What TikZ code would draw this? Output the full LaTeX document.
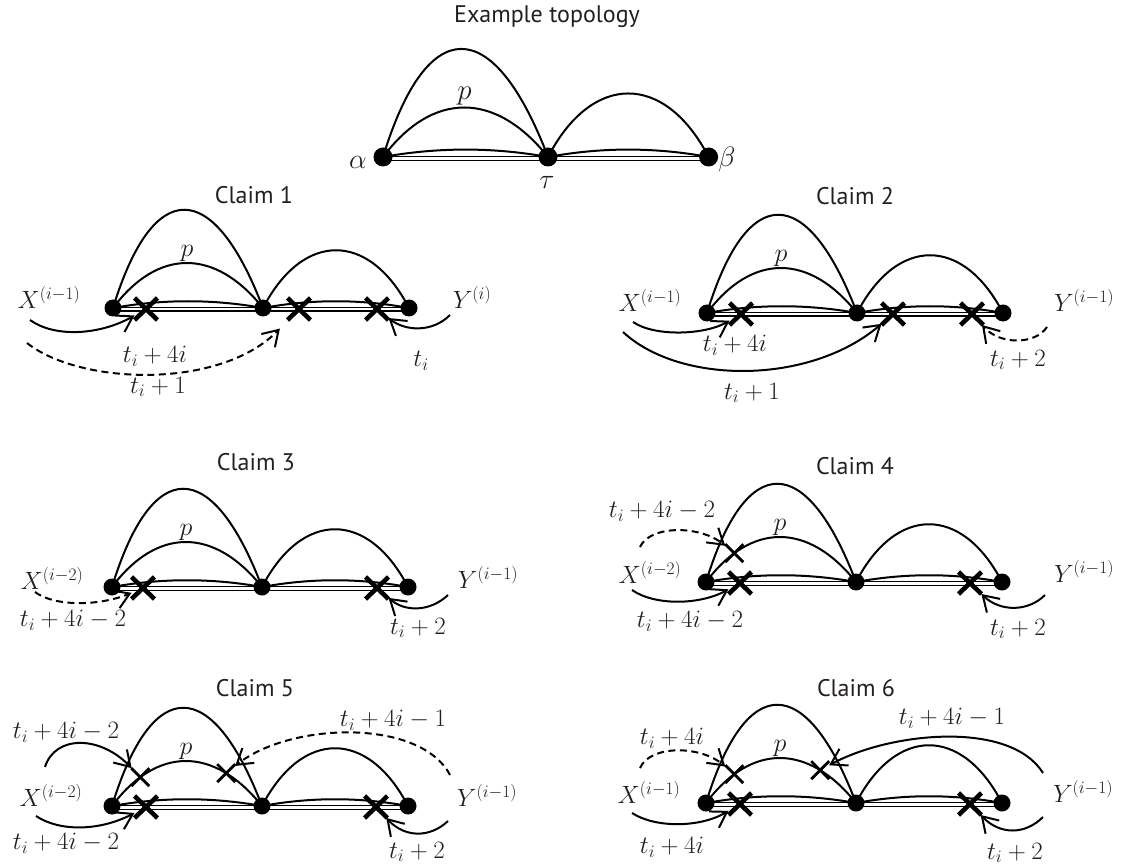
\RequirePackage{fix-cm}
\documentclass[tikz,border=0pt]{standalone}
\usepackage{fontspec}
\setsansfont{PT Sans}
\usetikzlibrary{arrows.meta,shapes.misc}
\pgfdeclarelayer{bg}
\pgfsetlayers{bg,main}
\definecolor{ink}{RGB}{35,31,32}
\tikzset{
  dot/.style={circle, fill=black, inner sep=0pt, minimum size=17pt},
  edge/.style={line width=2pt, black},
  dbl/.style={line width=1.6pt, black, double=white, double distance=2.2pt},
  bigx/.style={cross out, draw=black, line width=4.6pt, minimum width=17pt, minimum height=16pt, inner sep=0pt, outer sep=3pt},
  smallx/.style={cross out, draw=black, line width=2.8pt, minimum size=12pt, inner sep=0pt, outer sep=3pt},
  arr/.style={line width=2pt, -{Straight Barb[length=15pt,width=19pt,line width=2pt]}},
  darr/.style={arr, dash pattern=on 7pt off 4.5pt},
  lab/.style={font=\fontsize{25}{30}\selectfont, text=ink, inner sep=0pt},
  plab/.style={font=\fontsize{26}{30}\selectfont, text=ink, inner sep=0pt},
  ttl/.style={font=\sffamily\fontsize{24}{28}\selectfont, text=ink, inner sep=0pt},
}
\newcommand{\topo}[2]{%
\begin{scope}[#2]
 \node[dot] (#1L) at (0,0) {};
 \node[dot] (#1M) at (150,0) {};
 \node[dot] (#1R) at (296,0) {};
 \node[plab] (#1p) at (74,-55) {$p$};
 \begin{pgfonlayer}{bg}
  \draw[edge] (#1L.center) .. controls (40,-131) and (100,-131) .. (#1M.center);
  \draw[edge] (#1L.center) .. controls (45,-60) and (102,-60) .. (#1M.center)
     coordinate[pos=0.2] (#1pa) coordinate[pos=0.76] (#1pb);
  \draw[edge] (#1L.center) .. controls (50,-9) and (100,-9) .. (#1M.center);
  \draw[dbl] ([yshift=-1.4pt]#1L.center) -- ([yshift=-1.4pt]#1M.center);
  \draw[edge] (#1M.center) .. controls (190,-77) and (256,-77) .. (#1R.center);
  \draw[edge] (#1M.center) .. controls (199,-9) and (247,-9) .. (#1R.center);
  \draw[dbl] ([yshift=-1.4pt]#1M.center) -- ([yshift=-1.4pt]#1R.center);
 \end{pgfonlayer}
\end{scope}}

\begin{document}
\begin{tikzpicture}[x=1pt,y=-1pt]
\useasboundingbox (0,0) rectangle (1126,866);

% ---------- Example topology ----------
\node[ttl] (extitle) at (547,17) {Example topology};
\topo{ex}{shift={(383,157)},scale=1.1,dot/.append style={minimum size=19pt},plab/.append style={font=\fontsize{29}{34}\selectfont}}
\node[lab, font=\fontsize{28}{32}\selectfont] (alpha) at (358,162) {$\alpha$};
\node[lab, font=\fontsize{28}{32}\selectfont] (beta) at (727,160) {$\beta$};
\node[lab, font=\fontsize{28}{32}\selectfont] (tau) at (547,182) {$\tau$};

% ---------- Claim 1 ----------
\node[ttl] (c1title) at (254,195) {Claim 1};
\topo{c1}{shift={(113,308)}}
\node[lab] (c1X) at (49,297) {$X^{(i-1)}$};
\node[lab] (c1Y) at (472,297) {$Y^{(i)}$};
\node[bigx] (c1m1) at (146,309) {};
\node[bigx] (c1m2) at (299,309) {};
\node[bigx] (c1m3) at (377,309) {};
\coordinate (c1s1) at (30,320);
\coordinate (c1s2) at (27,343);
\coordinate (c1s3) at (450,315);
\draw[arr] (c1s1) .. controls (55,338) and (100,335) .. (c1m1);
\draw[darr, shorten >=12pt] (c1s2) .. controls (80,385) and (220,390) .. (c1m2);
\draw[arr] (c1s3) .. controls (432,333) and (405,331) .. (c1m3);
\node[lab] (c1l1) at (155,356) {$t_i+4i$};
\node[lab] (c1l2) at (158,387) {$t_i+1$};
\node[lab] (c1l3) at (421,361) {$t_i$};

% ---------- Claim 2 ----------
\node[ttl] (c2title) at (855,196) {Claim 2};
\topo{c2}{shift={(707,313)}}
\node[lab] (c2X) at (650,300) {$X^{(i-1)}$};
\node[lab] (c2Y) at (1084,300) {$Y^{(i-1)}$};
\node[bigx] (c2m1) at (741,314) {};
\node[bigx] (c2m2) at (893,314) {};
\node[bigx] (c2m3) at (972,314) {};
\coordinate (c2s1) at (633,322);
\coordinate (c2s2) at (623,332);
\coordinate (c2s3) at (1047,327);
\draw[arr] (c2s1) .. controls (655,337) and (705,335) .. (c2m1);
\draw[arr] (c2s2) .. controls (680,385) and (810,385) .. (c2m2);
\draw[darr] (c2s3) .. controls (1035,345) and (1000,345) .. (c2m3);
\node[lab] (c2l1) at (735,345) {$t_i+4i$};
\node[lab] (c2l2) at (752,393) {$t_i+1$};
\node[lab] (c2l3) at (1018,360) {$t_i+2$};

% ---------- Claim 3 ----------
\node[ttl] (c3title) at (256,462) {Claim 3};
\topo{c3}{shift={(112,587)}}
\node[lab] (c3X) at (52,578) {$X^{(i-2)}$};
\node[lab] (c3Y) at (488,577) {$Y^{(i-1)}$};
\node[bigx] (c3m1) at (143,588) {};
\node[bigx] (c3m2) at (377,588) {};
\coordinate (c3s1) at (35,592);
\coordinate (c3s2) at (448,595);
\draw[darr] (c3s1) .. controls (55,607) and (100,606) .. (c3m1);
\draw[arr] (c3s2) .. controls (430,612) and (405,612) .. (c3m2);
\node[lab] (c3l1) at (73,620) {$t_i+4i-2$};
\node[lab] (c3l2) at (418,628) {$t_i+2$};

% ---------- Claim 4 ----------
\node[ttl] (c4title) at (855,466) {Claim 4};
\topo{c4}{shift={(706,582)}}
\node[lab] (c4X) at (650,572) {$X^{(i-2)}$};
\node[lab] (c4Y) at (1084,571) {$Y^{(i-1)}$};
\node[smallx] (c4x1) at (c4pa) {};
\node[bigx] (c4m1) at (740,583) {};
\node[bigx] (c4m2) at (970,583) {};
\coordinate (c4s1) at (640,547);
\coordinate (c4s2) at (632,590);
\coordinate (c4s3) at (1045,595);
\draw[darr] (c4s1) .. controls (650,525) and (700,525) .. (c4x1);
\draw[arr] (c4s2) .. controls (655,606) and (700,605) .. (c4m1);
\draw[arr] (c4s3) .. controls (1028,612) and (1000,612) .. (c4m2);
\node[lab] (c4l1) at (662,511) {$t_i+4i-2$};
\node[lab] (c4l2) at (690,621) {$t_i+4i-2$};
\node[lab] (c4l3) at (1018,629) {$t_i+2$};

% ---------- Claim 5 ----------
\node[ttl] (c5title) at (255,688) {Claim 5};
\topo{c5}{shift={(112,806)}}
\node[lab] (c5X) at (51,795) {$X^{(i-2)}$};
\node[lab] (c5Y) at (487,795) {$Y^{(i-1)}$};
\node[smallx] (c5x1) at (c5pa) {};
\node[smallx] (c5x2) at (c5pb) {};
\node[bigx] (c5m1) at (146,807) {};
\node[bigx] (c5m2) at (376,807) {};
\coordinate (c5s1) at (45,767);
\coordinate (c5s2) at (36,816);
\coordinate (c5s3) at (450,775);
\coordinate (c5s4) at (448,821);
\draw[arr] (c5s1) .. controls (55,735) and (100,735) .. (c5x1);
\draw[arr] (c5s2) .. controls (60,832) and (100,831) .. (c5m1);
\draw[darr] (c5s3) .. controls (420,718) and (290,722) .. (c5x2);
\draw[arr] (c5s4) .. controls (430,838) and (405,838) .. (c5m2);
\node[lab] (c5l1) at (66,732) {$t_i+4i-2$};
\node[lab] (c5l2) at (66,843) {$t_i+4i-2$};
\node[lab] (c5l3) at (393,720) {$t_i+4i-1$};
\node[lab] (c5l4) at (417,852) {$t_i+2$};

% ---------- Claim 6 ----------
\node[ttl] (c6title) at (856,688) {Claim 6};
\topo{c6}{shift={(706,803)}}
\node[lab] (c6X) at (649,792) {$X^{(i-1)}$};
\node[lab] (c6Y) at (1083,791) {$Y^{(i-1)}$};
\node[smallx] (c6x1) at (c6pa) {};
\node[smallx] (c6x2) at (c6pb) {};
\node[bigx] (c6m1) at (740,804) {};
\node[bigx] (c6m2) at (970,804) {};
\coordinate (c6s1) at (640,768);
\coordinate (c6s2) at (632,813);
\coordinate (c6s3) at (1043,773);
\coordinate (c6s4) at (1043,817);
\draw[darr] (c6s1) .. controls (650,745) and (700,745) .. (c6x1);
\draw[arr] (c6s2) .. controls (655,828) and (700,828) .. (c6m1);
\draw[arr] (c6s3) .. controls (1010,720) and (890,732) .. (c6x2);
\draw[arr] (c6s4) .. controls (1025,835) and (1000,835) .. (c6m2);
\node[lab] (c6l1) at (672,738) {$t_i+4i$};
\node[lab] (c6l2) at (672,847) {$t_i+4i$};
\node[lab] (c6l3) at (952,718) {$t_i+4i-1$};
\node[lab] (c6l4) at (1015,853) {$t_i+2$};
\end{tikzpicture}
\end{document}
